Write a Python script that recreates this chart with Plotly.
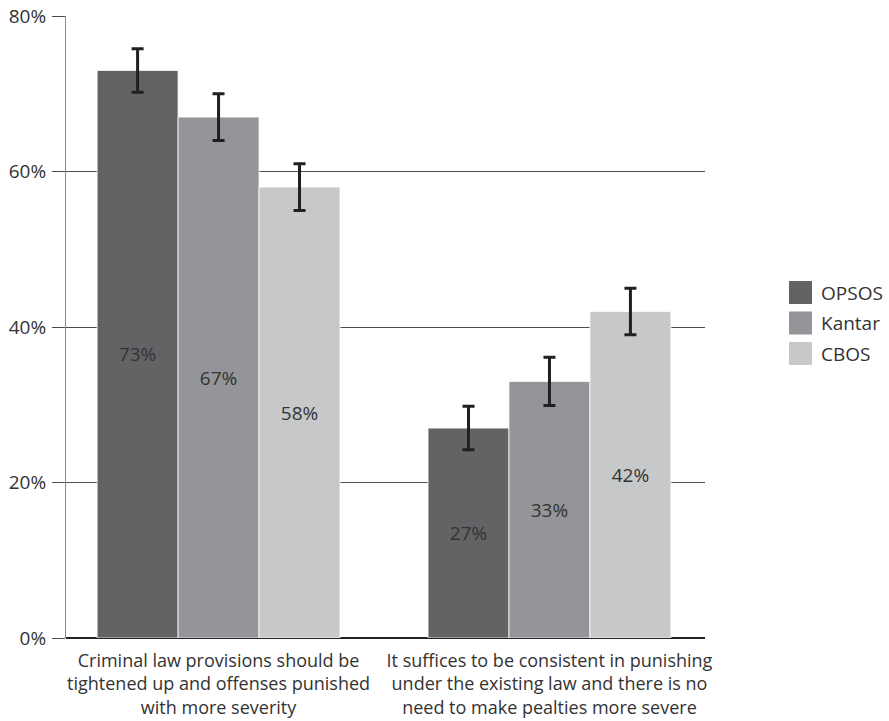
import plotly.graph_objects as go

# Survey answers and the three polling houses
categories = [
    "Criminal law provisions should be<br>tightened up and offenses punished<br>with more severity",
    "It suffices to be consistent in punishing<br>under the existing law and there is no<br>need to make pealties more severe",
]
series_names = ["OPSOS", "Kantar", "CBOS"]
opsos = [73, 27]
kantar = [67, 33]
cbos = [58, 42]
opsos_err = [2.8, 2.8]
kantar_err = [3.0, 3.1]
cbos_err = [3.0, 3.0]
y_ticks = [0, 20, 40, 60, 80]
y_tick_labels = ["0%", "20%", "40%", "60%", "80%"]

colors = ["#636365", "#949598", "#c7c8ca"]
font_family = "Open Sans, Noto Sans, sans-serif"
text_color = "#333333"

W, H = 889, 721
M_L, M_R, M_T, M_B = 66, 184, 16, 83
plot_w = W - M_L - M_R
plot_h = H - M_T - M_B


def px_x(px):
    return (px - M_L) / plot_w


def px_y(py):
    return (H - M_B - py) / plot_h


fig = go.Figure()
for name, vals, errs, col in zip(series_names, [opsos, kantar, cbos],
                                 [opsos_err, kantar_err, cbos_err], colors):
    fig.add_trace(go.Bar(
        name=name,
        x=[0, 1],
        y=vals,
        showlegend=False,
        marker=dict(color=col, line=dict(color="white", width=0.8)),
        text=[f"{v}%" for v in vals],
        textposition="inside",
        insidetextanchor="middle",
        textfont=dict(color=text_color, size=19, family=font_family),
        error_y=dict(type="data", array=errs, visible=True,
                     color="#231f20", thickness=3, width=6),
    ))

# Legend: square swatches with series names
shapes = []
annotations = []
legend_top = 281
legend_step = 30.5
swatch = 23
for i, (name, col) in enumerate(zip(series_names, colors)):
    top = legend_top + i * legend_step
    shapes.append(dict(
        type="rect", xref="paper", yref="paper",
        x0=px_x(789), x1=px_x(789 + swatch),
        y0=px_y(top + swatch), y1=px_y(top),
        fillcolor=col, line=dict(width=0),
    ))
    annotations.append(dict(
        xref="paper", yref="paper",
        x=px_x(819), y=px_y(top + swatch / 2),
        xanchor="left", yanchor="middle",
        text=name, showarrow=False,
        font=dict(size=19, color=text_color, family=font_family),
    ))

fig.update_layout(
    width=W, height=H,
    margin=dict(l=M_L, r=M_R, t=M_T, b=M_B),
    paper_bgcolor="white", plot_bgcolor="white",
    barmode="group",
    bargap=0.266, bargroupgap=0,
    font=dict(family=font_family, color=text_color, size=18),
    showlegend=False,
    shapes=shapes,
    annotations=annotations,
    xaxis=dict(
        range=[-0.461, 1.470],
        tickvals=[0, 1], ticktext=categories,
        showgrid=False, zeroline=False, showline=False,
        ticks="", tickfont=dict(size=18, color=text_color),
        ticklabelstandoff=10,
        automargin=False,
    ),
    yaxis=dict(
        range=[0, 80],
        tickvals=y_ticks, ticktext=y_tick_labels,
        showgrid=True, gridcolor="#4d4d4d", gridwidth=1.3,
        zeroline=True, zerolinecolor="#222222", zerolinewidth=1.6,
        showline=True, linecolor="#8a8a8a", linewidth=1.2,
        ticks="outside", ticklen=13, tickcolor="#4d4d4d", tickwidth=1.3,
        tickfont=dict(size=19, color=text_color),
        ticklabelstandoff=2,
        automargin=False,
    ),
)

fig.write_html("out.html")
